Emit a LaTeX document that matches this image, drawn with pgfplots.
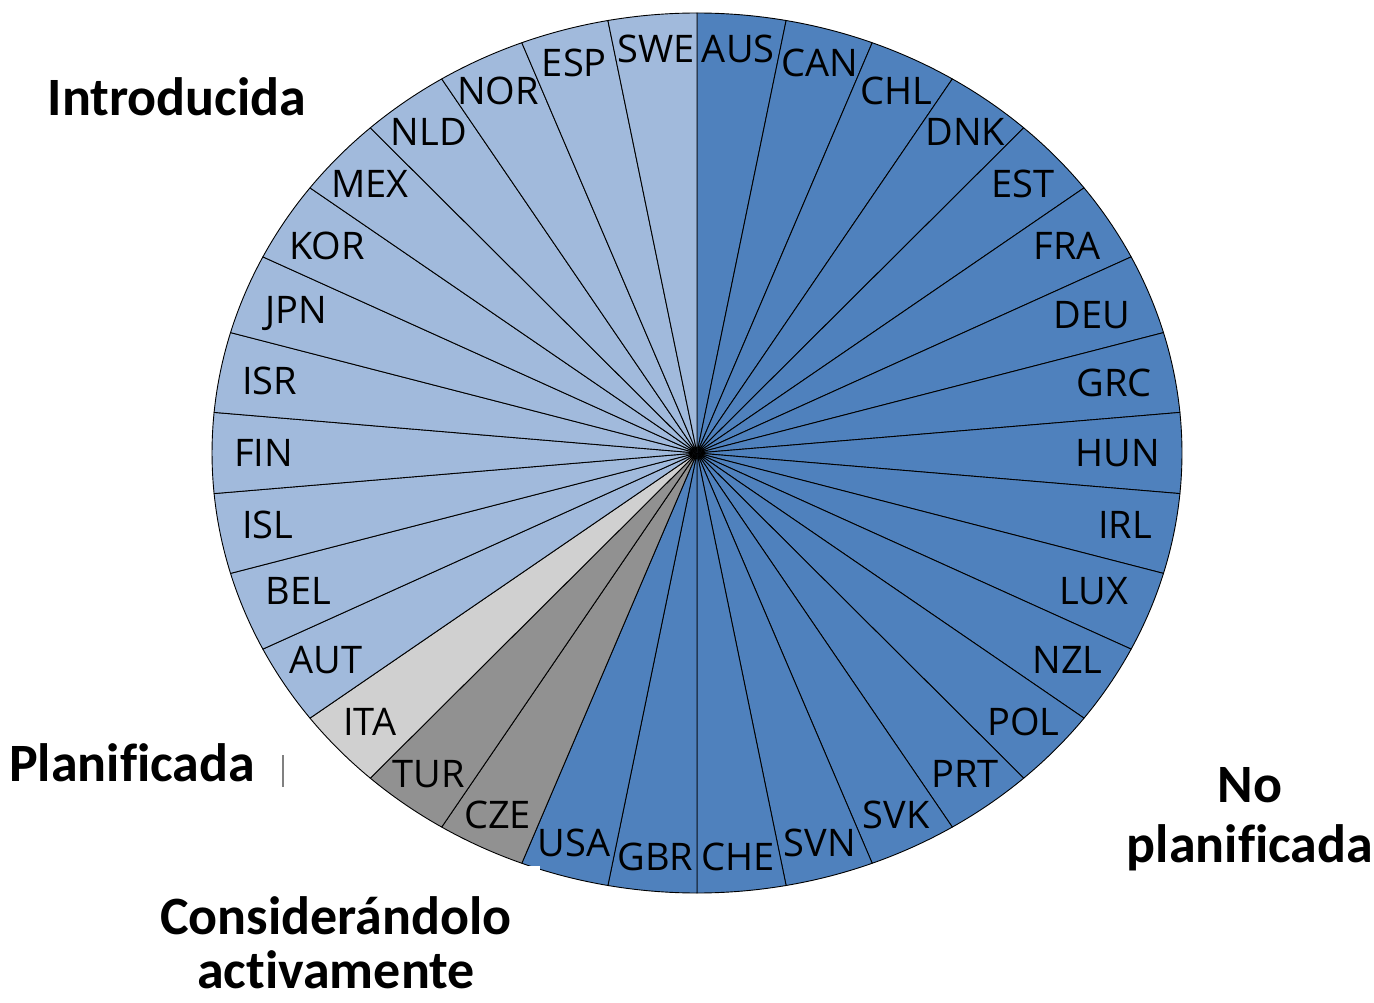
\documentclass[border=0pt]{standalone}
\usepackage{pgfplots}
\usepackage{pgfplotstable}
\usepackage{fontspec}
\pgfplotsset{compat=1.18}
\newfontfamily\lblfont{Open Sans}
\newfontfamily\ttlfont[Ligatures=NoCommon]{Carlito}
\definecolor{c0}{RGB}{79,129,189}   % No planificada
\definecolor{c1}{RGB}{145,145,145}  % Considerandolo activamente
\definecolor{c2}{RGB}{208,208,208}  % Planificada
\definecolor{c3}{RGB}{161,186,220}  % Introducida
\pgfplotstableread{
name grp val
AUS 0 1
CAN 0 1
CHL 0 1
DNK 0 1
EST 0 1
FRA 0 1
DEU 0 1
GRC 0 1
HUN 0 1
IRL 0 1
LUX 0 1
NZL 0 1
POL 0 1
PRT 0 1
SVK 0 1
SVN 0 1
CHE 0 1
GBR 0 1
USA 0 1
CZE 1 1
TUR 1 1
ITA 2 1
AUT 3 1
BEL 3 1
ISL 3 1
FIN 3 1
ISR 3 1
JPN 3 1
KOR 3 1
MEX 3 1
NLD 3 1
NOR 3 1
ESP 3 1
SWE 3 1
}\pietable
\begin{document}
\begin{tikzpicture}
\begin{axis}[x=0.5pt,y=0.5pt,xmin=0,xmax=1374,ymin=0,ymax=1002,hide axis,clip=false]
\path (axis cs:0,0) rectangle (axis cs:1374,1002);
\def\cx{697}\def\cy{549}\def\rx{485}\def\ry{440}
\pgfplotstablegetrowsof{\pietable}
\pgfmathtruncatemacro\nrows{\pgfplotsretval-1}
\def\total{0}
\pgfplotsforeachungrouped \i in {0,...,\nrows}{%
  \pgfplotstablegetelem{\i}{val}\of\pietable
  \pgfmathsetmacro\total{\total+\pgfplotsretval}%
}
\def\cum{0}
\pgfplotsforeachungrouped \i in {0,...,\nrows}{%
  \pgfplotstablegetelem{\i}{grp}\of\pietable \let\g\pgfplotsretval
  \pgfplotstablegetelem{\i}{val}\of\pietable \let\v\pgfplotsretval
  \pgfmathsetmacro\a{90-360*\cum/\total}%
  \pgfmathsetmacro\b{90-360*(\cum+\v)/\total}%
  \pgfmathsetmacro\xa{\cx+\rx*cos(\a)}%
  \pgfmathsetmacro\ya{\cy+\ry*sin(\a)}%
  \edef\temp{\noexpand\filldraw[fill=c\g,draw=black,line width=0.45pt,line join=round]
    (axis cs:\cx,\cy) -- (axis cs:\xa,\ya) arc[start angle=\a,end angle=\b,x radius=242.5pt,y radius=220pt] -- cycle;}%
  \temp
  \pgfmathsetmacro\cum{\cum+\v}%
}
\def\cum{0}
\pgfplotsforeachungrouped \i in {0,...,\nrows}{%
  \pgfplotstablegetelem{\i}{name}\of\pietable \let\nm\pgfplotsretval
  \pgfplotstablegetelem{\i}{val}\of\pietable \let\v\pgfplotsretval
  \pgfmathsetmacro\m{90-360*(\cum+0.5*\v)/\total}%
  \pgfmathsetmacro\xl{\cx+0.955*\rx*cos(\m)}%
  \pgfmathsetmacro\yl{\cy+0.955*\ry*sin(\m)}%
  \edef\temp{\noexpand\node[anchor=\m,inner sep=0pt,font=\noexpand\lblfont\noexpand\fontsize{19pt}{22pt}\noexpand\selectfont] at (axis cs:\xl,\yl) {\nm};}%
  \temp
  \pgfmathsetmacro\cum{\cum+\v}%
}
% white patch present in the reference
\fill[white] (axis cs:505,112) rectangle (axis cs:540,136);
\draw[gray,line width=0.6pt] (axis cs:283,247) -- (axis cs:283,215);
\begin{scope}[every node/.style={font=\ttlfont\bfseries\fontsize{27pt}{31pt}\selectfont,align=center,inner sep=0pt}]
\node at (axis cs:177,905) {Introducida};
\node at (axis cs:132,239) {Planificada};
\node at (axis cs:336,86) {Considerándolo};
\node at (axis cs:336,32) {activamente};
\node at (axis cs:1250,217) {No};
\node at (axis cs:1250,154) {planificada};
\end{scope}
\end{axis}
\end{tikzpicture}
\end{document}
